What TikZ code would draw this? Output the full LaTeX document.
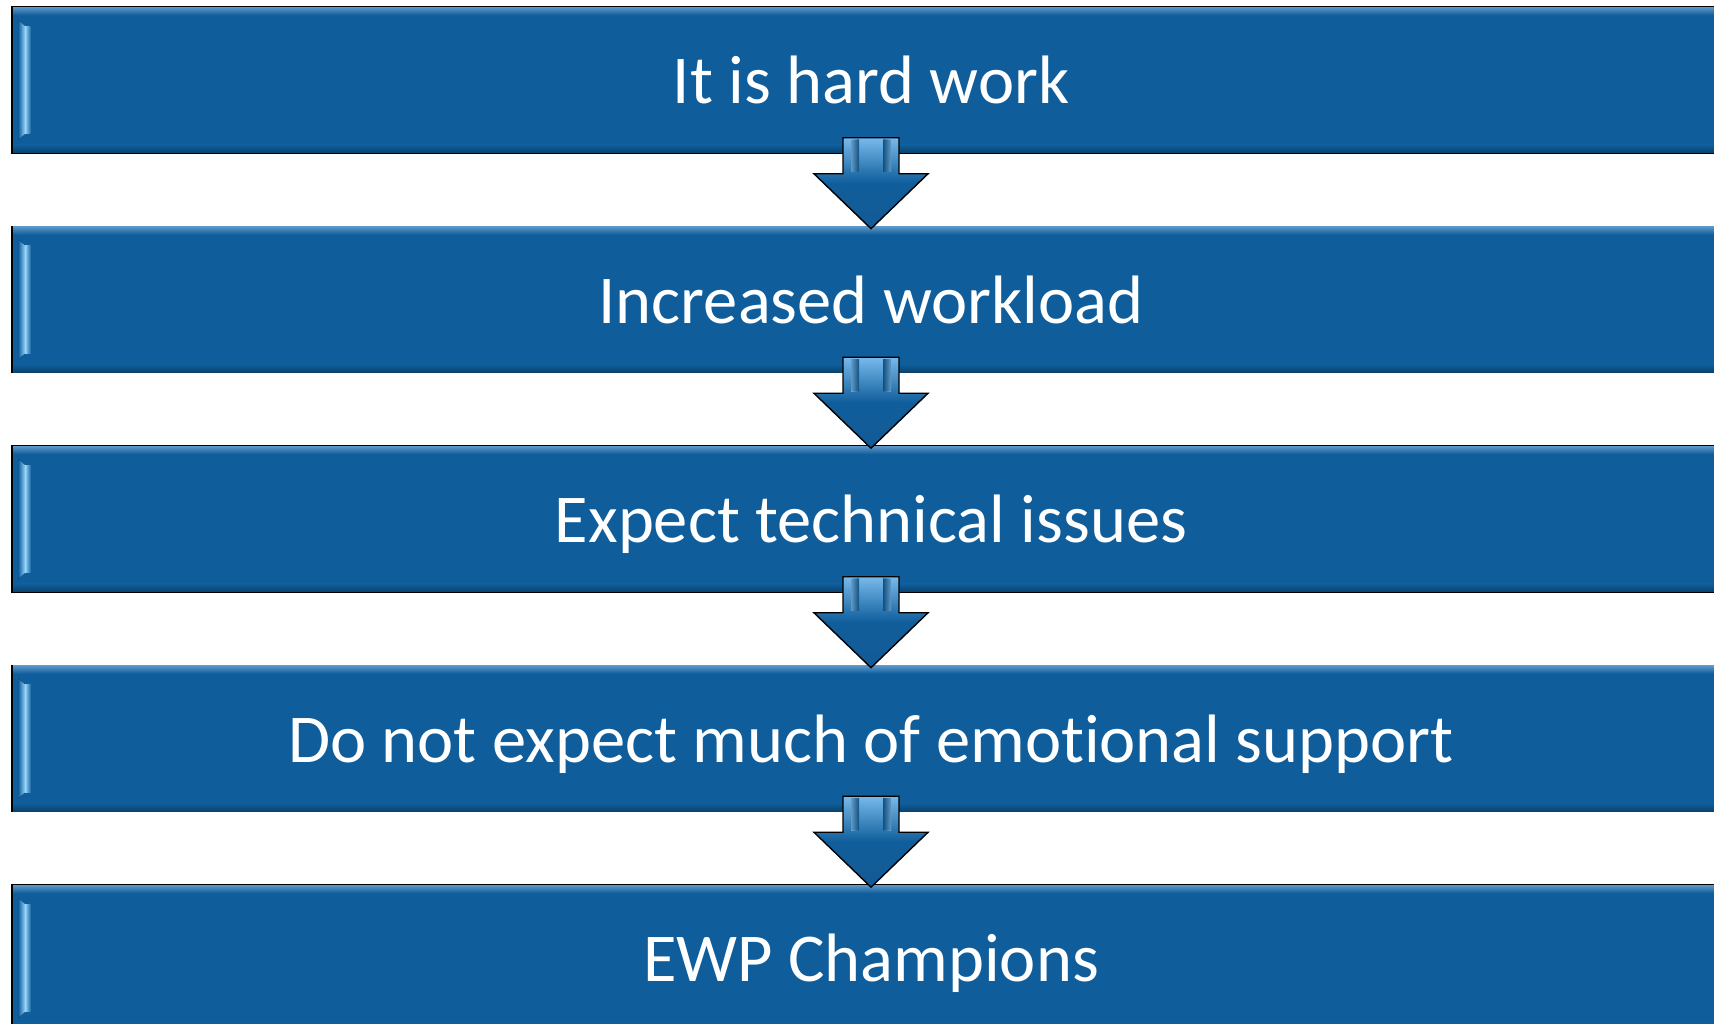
\documentclass[tikz,border=0pt]{standalone}
\usepackage{fontspec}
\setmainfont{Carlito}[Ligatures=NoCommon]
\usetikzlibrary{calc}
\definecolor{boxblue}{RGB}{15,94,155}
\definecolor{boxlight}{RGB}{92,150,200}
\definecolor{hilite}{RGB}{150,212,250}
\definecolor{arrowdark}{RGB}{20,90,150}
\definecolor{arrowlight}{RGB}{120,185,235}
\tikzset{
  stepbox/.style={rectangle, draw=black, line width=1.6pt, fill=boxblue,
    minimum width=1718pt, minimum height=146pt, inner sep=0pt},
  steptext/.style={text=white, font=\fontsize{68.5}{78}\selectfont, inner sep=0pt, anchor=base},
  blockarrow/.style={draw=black, line width=1.4pt, line join=miter,
    top color=arrowlight, bottom color=arrowdark, middle color=boxblue}
}
\begin{document}
\begin{tikzpicture}[x=1pt,y=1pt]
\useasboundingbox (0,0) rectangle (1714,1024);
\foreach \i/\t in {1/It is hard work,2/Increased workload,3/Expect technical issues,4/Do not expect much of emotional support,5/EWP Champions}{
  \node[stepbox] (b\i) at (871,{1024-80-219.5*(\i-1)}) {};
  % bevel: top and bottom bands, left highlight
  \fill[top color=boxlight, bottom color=boxblue] ($(b\i.north west)+(2,-1)$) rectangle ($(b\i.north east)+(-2,-9)$);
  \fill[top color=boxblue, bottom color=boxblue!70!black] ($(b\i.south west)+(2,9)$) rectangle ($(b\i.south east)+(-2,1)$);
  \fill[left color=boxblue, right color=hilite] ($(b\i.north west)+(7,-14)$) -- ($(b\i.north west)+(14,-20)$) -- ($(b\i.south west)+(14,20)$) -- ($(b\i.south west)+(7,14)$) -- cycle;
  \fill[left color=hilite, right color=boxblue] ($(b\i.north west)+(14,-20)$) rectangle ($(b\i.south west)+(20,20)$);
  \node[steptext] (t\i) at ($(b\i.center)+(0,-24)$) {\t};
}
\foreach \i [evaluate=\i as \j using int(\i+1)] in {1,2,3,4}{
  \draw[blockarrow]
    ($(b\i.south)+(-28,16)$) -- ($(b\i.south)+(28,16)$) -- ($(b\i.south)+(28,-20)$)
    -- ($(b\i.south)+(57,-20)$) -- ($(b\j.north)+(0,-3)$) -- ($(b\i.south)+(-57,-20)$)
    -- ($(b\i.south)+(-28,-20)$) -- cycle;
  \fill[left color=arrowlight, right color=boxblue, opacity=0.8] ($(b\i.south)+(-20,14)$) rectangle ($(b\i.south)+(-12,-18)$);
  \fill[left color=boxblue, right color=arrowlight, opacity=0.8] ($(b\i.south)+(12,14)$) rectangle ($(b\i.south)+(20,-18)$);
}
\end{tikzpicture}
\end{document}
